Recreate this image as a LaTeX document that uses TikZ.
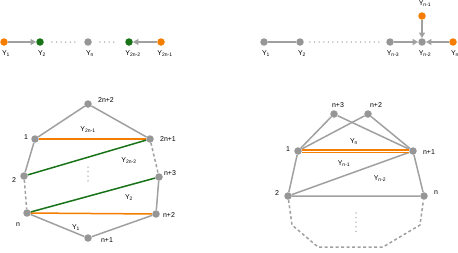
\documentclass[tikz,border=0pt]{standalone}
\usepackage{fontspec}
\setmainfont{Liberation Sans}
\usetikzlibrary{arrows.meta}

\definecolor{edgegray}{RGB}{160,160,160}
\definecolor{nodegray}{RGB}{150,150,150}
\definecolor{vorange}{RGB}{245,125,0}
\definecolor{vgreen}{RGB}{25,115,25}

\begin{document}
\begin{tikzpicture}[x=1pt, y=-1pt,
  font=\fontsize{7}{8}\selectfont,
  v/.style={circle, fill=nodegray, inner sep=0pt, minimum size=7.5pt},
  vo/.style={v, fill=vorange},
  vg/.style={v, fill=vgreen},
  lab/.style={inner sep=0.5pt},
  e/.style={draw=edgegray, line width=1.5pt},
  arr/.style={e, -{Triangle[length=5.5pt, width=6pt]}},
  dashe/.style={e, dash pattern=on 3pt off 2.5pt},
  dotl/.style={e, line cap=round, dash pattern=on 0pt off 4.6pt},
  orng/.style={draw=vorange, line width=1.5pt},
  grn/.style={draw=vgreen, line width=1.5pt}]

\useasboundingbox (0,0) rectangle (458,252);

% top left: chain with two sources
\node[vo] (a1) at (4,42) {};
\node[vg] (a2) at (40,42) {};
\node[v]  (an) at (88,42) {};
\node[vg] (a3) at (129,42) {};
\node[vo] (a4) at (161,42) {};
\node[lab] (la1) at (6,54) {Y\textsubscript{1}};
\node[lab] (la2) at (42,54) {Y\textsubscript{2}};
\node[lab] (lan) at (90,54) {Y\textsubscript{n}};
\node[lab] (la3) at (133,54) {Y\textsubscript{2n-2}};
\node[lab] (la4) at (165,54) {Y\textsubscript{2n-1}};

\draw[arr] (a1) -- (a2);
\draw[arr] (a4) -- (a3);
\draw[dotl, shorten <=8pt, shorten >=8pt] (a2) -- (an);
\draw[dotl, shorten <=8pt, shorten >=8pt] (an) -- (a3);

% top right: path into a sink
\node[v]  (b1) at (264,42) {};
\node[v]  (b2) at (300,42) {};
\node[v]  (b3) at (390,42) {};
\node[v]  (b4) at (422,42) {};
\node[vo] (b5) at (422,16) {};
\node[vo] (b6) at (453,42) {};
\node[lab] (lb1) at (266,54) {Y\textsubscript{1}};
\node[lab] (lb2) at (302,54) {Y\textsubscript{2}};
\node[lab] (lb3) at (393,54) {Y\textsubscript{n-3}};
\node[lab] (lb4) at (425,54) {Y\textsubscript{n-2}};
\node[lab] (lb5) at (425,4) {Y\textsubscript{n-1}};
\node[lab] (lb6) at (455,54) {Y\textsubscript{n}};

\draw[e] (b1) -- (b2);
\draw[dotl, shorten <=6pt, shorten >=6pt] (b2) -- (b3);
\draw[arr] (b3) -- (b4);
\draw[arr] (b5) -- (b4);
\draw[arr] (b6) -- (b4);

% bottom left: polygon with chords
\node[v] (p0) at (88,104) {};
\node[v] (p1) at (35,139) {};
\node[v] (q1) at (150,139) {};
\node[v] (p2) at (24,176) {};
\node[v] (q3) at (159,177) {};
\node[v] (pn) at (27,213) {};
\node[v] (q2) at (156,214) {};
\node[v] (q0) at (88,238) {};
\node[lab] (lp0) at (106,100) {2n+2};
\node[lab] (lp1) at (26,137) {1};
\node[lab] (lq1) at (168,139) {2n+1};
\node[lab] (lp2) at (14,180) {2};
\node[lab] (lq3) at (170,173) {n+3};
\node[lab] (lpn) at (18,225) {n};
\node[lab] (lq2) at (169,215) {n+2};
\node[lab] (lq0) at (107,240) {n+1};
\node[lab] (y1) at (76,228) {Y\textsubscript{1}};
\node[lab] (y2) at (129,198) {Y\textsubscript{2}};
\node[lab] (y3) at (129,161) {Y\textsubscript{2n-2}};
\node[lab] (y4) at (88,130) {Y\textsubscript{2n-1}};

\draw[e] (p1) -- (p0) -- (q1);
\draw[e] (p1) -- (p2);
\draw[e] (q3) -- (q2);
\draw[e] (pn) -- (q0) -- (q2);
\draw[dashe] (p2) -- (pn);
\draw[dashe] (q1) -- (q3);
\draw[orng] (p1) -- (q1);
\draw[orng] (pn) -- (q2);
\draw[grn] (p2) -- (q1);
\draw[grn] (pn) -- (q3);
\draw[dotl] (88,167) -- (88,185);

% bottom right: polygon with fan
\node[v] (r3) at (334,114) {};
\node[v] (r2) at (368,114) {};
\node[v] (s1) at (298,151) {};
\node[v] (r1) at (413,151) {};
\node[v] (s2) at (288,196) {};
\node[v] (rn) at (424,196) {};
\coordinate (c1) at (292,225);
\coordinate (c2) at (318,247);
\coordinate (c3) at (383,247);
\coordinate (c4) at (420,225);
\node[lab] (lr3) at (338,105) {n+3};
\node[lab] (lr2) at (376,105) {n+2};
\node[lab] (ls1) at (288,149) {1};
\node[lab] (lr1) at (429,152) {n+1};
\node[lab] (ls2) at (277,193) {2};
\node[lab] (lrn) at (436,193) {n};
\node[lab] (z1) at (354,142) {Y\textsubscript{n}};
\node[lab] (z2) at (344,164) {Y\textsubscript{n-1}};
\node[lab] (z3) at (380,179) {Y\textsubscript{n-2}};

\draw[e] (s1) -- (r3) -- (r1);
\draw[e] (s1) -- (r2) -- (r1);
\draw[e] (s1) -- (s2) -- (rn) -- (r1);
\draw[e] (s2) -- (r1);
\draw[orng, line width=1.4pt, double=white, double distance=1pt] (s1) -- (r1);
\draw[dashe] (s2) -- (c1) -- (c2) -- (c3) -- (c4) -- (rn);
\draw[dotl] (356,213) -- (356,232);
\end{tikzpicture}
\end{document}
